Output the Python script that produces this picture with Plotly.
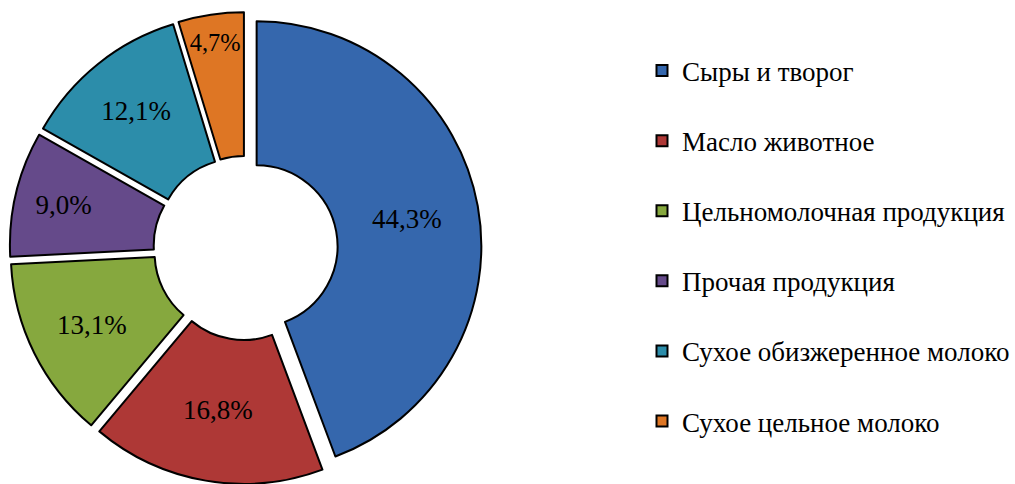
import plotly.graph_objects as go

categories = [
    "Сыры и творог",
    "Масло животное",
    "Цельномолочная продукция",
    "Прочая продукция",
    "Сухое обизжеренное молоко",
    "Сухое цельное молоко",
]
shares = [44.3, 16.8, 13.1, 9.0, 12.1, 4.7]
colors = ["#3567AD", "#AE3836", "#86A83E", "#654A8A", "#2C8DAA", "#DE7624"]

labels_text = [f"{v:.1f}".replace(".", ",") + "%" for v in shares]

SERIF = "Liberation Serif"

fig = go.Figure()

fig.add_trace(go.Pie(
    labels=categories,
    values=shares,
    text=labels_text,
    textinfo="text",
    textposition="inside",
    insidetextorientation="horizontal",
    textfont=dict(family=SERIF, size=27, color="black"),
    marker=dict(colors=colors, line=dict(color="black", width=2)),
    hole=0.36,
    pull=[0.05] * len(shares),
    sort=False,
    direction="clockwise",
    rotation=0,
    showlegend=False,
    domain=dict(x=[0.0, 0.4887], y=[0.0, 0.975]),
))

# legend entries as separate groups so they can be spaced apart
for name, col in zip(categories, colors):
    fig.add_trace(go.Scatter(
        x=[None], y=[None], mode="markers", name=name,
        legendgroup=name,
        marker=dict(symbol="square", size=11, color=col,
                    line=dict(color="black", width=2)),
    ))

fig.update_layout(
    width=1015, height=484,
    margin=dict(l=0, r=0, t=0, b=0),
    paper_bgcolor="white", plot_bgcolor="white",
    xaxis=dict(visible=False), yaxis=dict(visible=False),
    legend=dict(
        x=0.639, y=0.4917, xanchor="left", yanchor="middle",
        font=dict(family=SERIF, size=27, color="black"),
        tracegroupgap=32, itemwidth=30,
        bgcolor="rgba(0,0,0,0)",
    ),
)

fig.write_html("out.html")
